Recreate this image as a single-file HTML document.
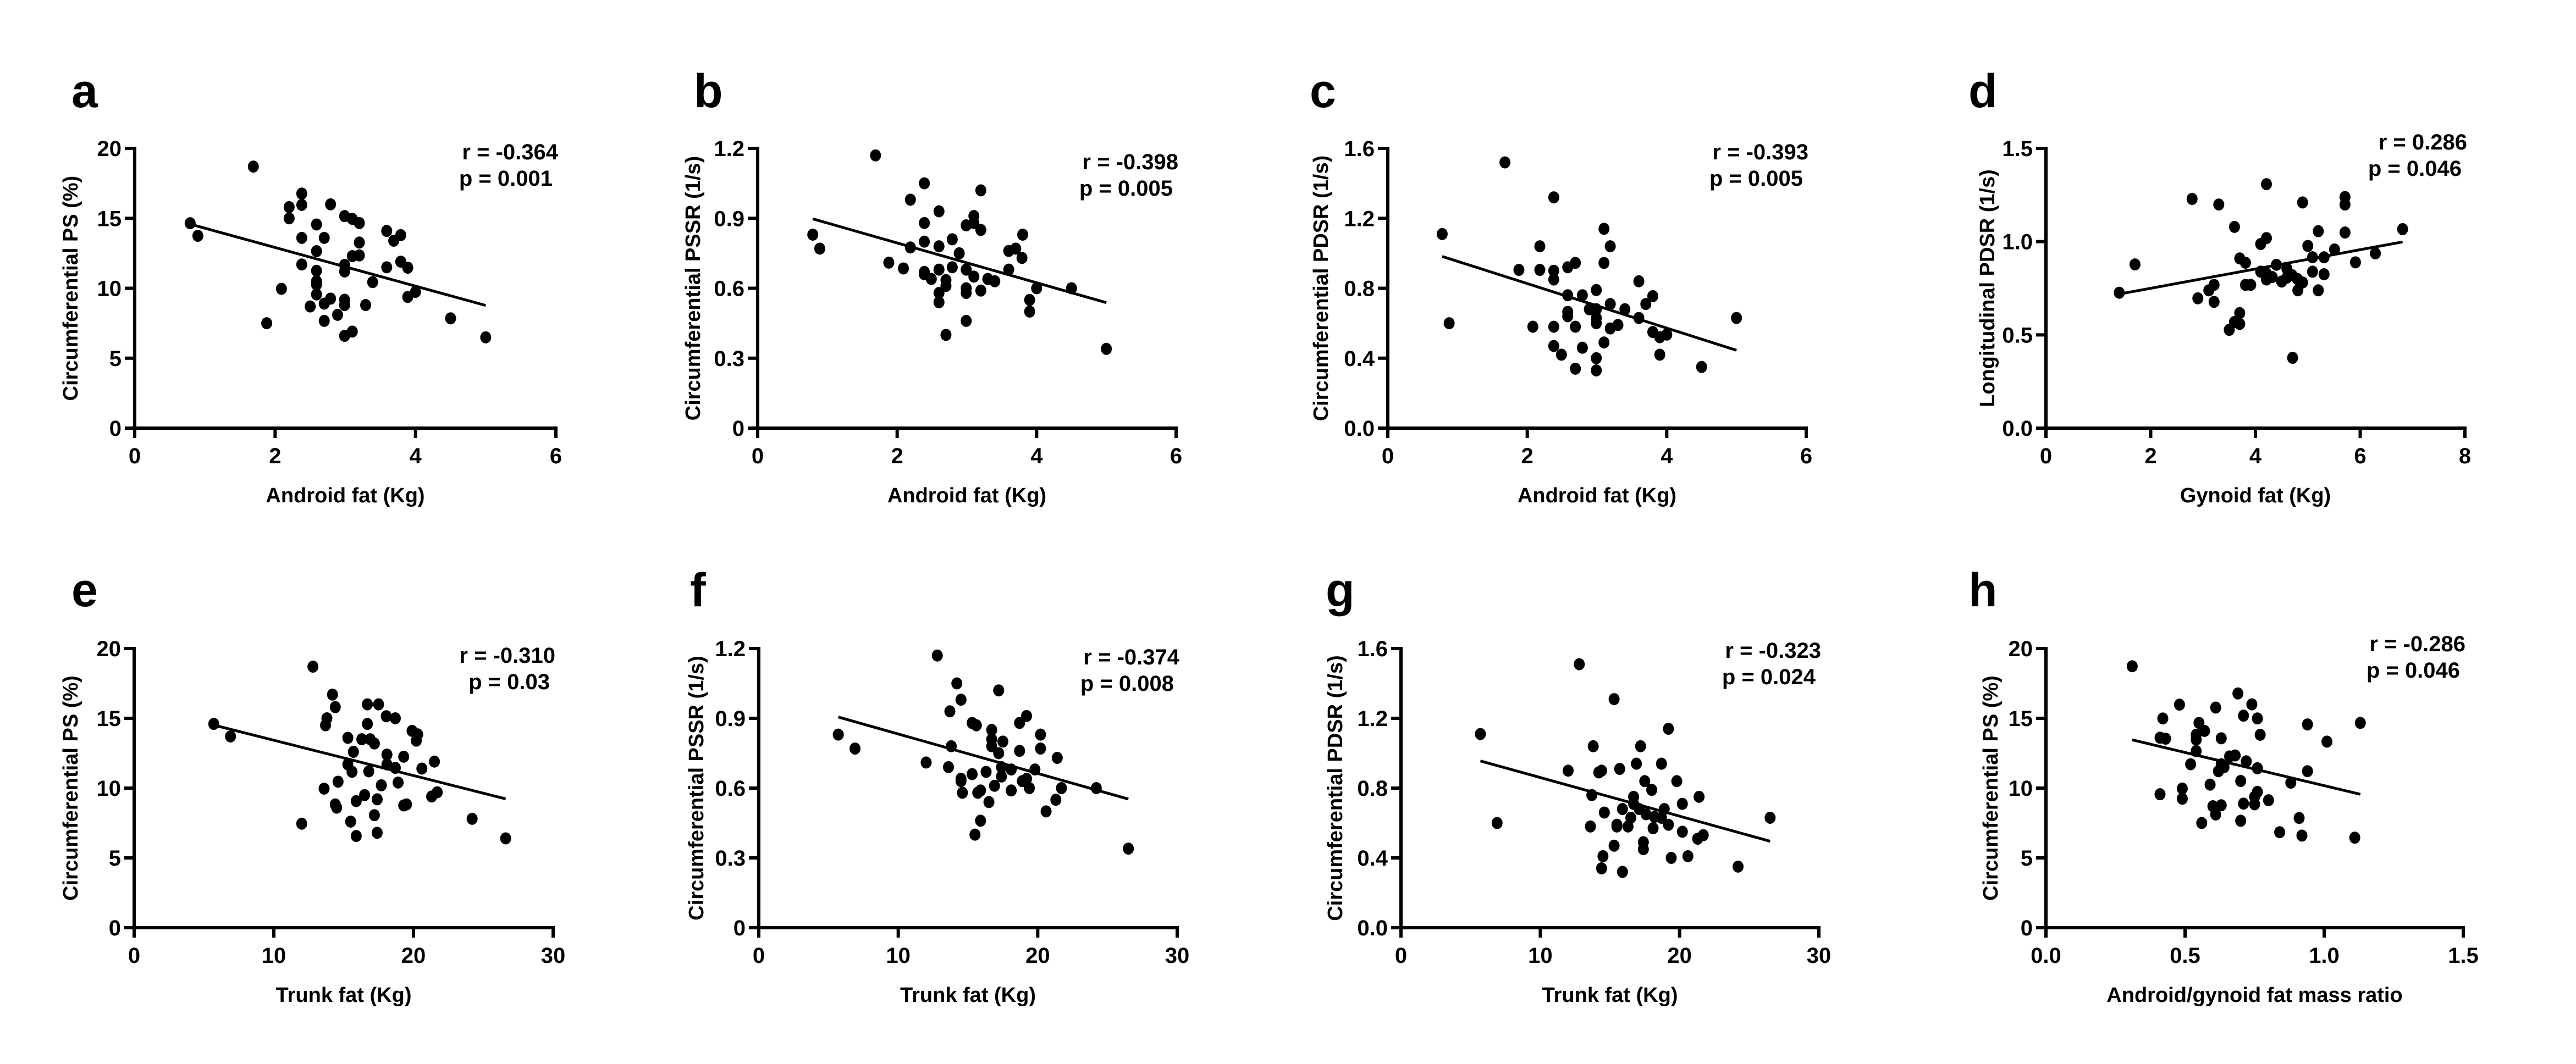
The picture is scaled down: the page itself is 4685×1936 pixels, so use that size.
<!DOCTYPE html>
<html><head><meta charset="utf-8">
<style>
html,body{margin:0;padding:0;background:#fff;}
svg{display:block;font-family:"Liberation Sans",Arial,sans-serif;font-weight:bold;}
</style></head>
<body>
<svg id="fig" width="4685" height="1936" viewBox="0 0 4685 1936" xmlns="http://www.w3.org/2000/svg"></svg>
<script>
// ---- Panel data ----
const aX=[1.69,0.79,0.9,2.38,2.38,2.2,2.2,2.79,2.59,2.38,2.7,2.59,2.38,2.59,2.59,2.59,2.59,2.09,1.88,2.5,2.7,2.79,2.7,2.89,2.99,2.99,2.99,3.1,2.99,2.99,2.99,3.1,3.2,3.2,3.1,3.2,3.29,3.39,3.59,3.69,3.79,3.59,3.79,3.89,3.89,4.0,4.5,5.0];
const aY=[18.7,14.65,13.75,16.77,15.96,15.8,15.0,16.0,14.56,13.6,13.6,12.65,11.7,11.25,10.5,10.26,9.56,9.96,7.5,8.7,8.9,9.26,7.67,8.1,9.18,8.8,6.6,6.9,11.67,11.2,15.16,14.96,14.66,13.27,12.3,12.35,8.8,10.44,14.1,13.4,13.8,11.5,11.9,11.47,9.38,9.74,7.85,6.49];
const bX=[1.69,0.79,0.89,2.39,2.19,2.6,2.39,2.39,2.19,2.6,2.79,2.89,2.99,3.1,3.1,3.2,3.2,3.8,3.6,3.7,3.79,3.6,1.88,2.09,2.39,2.39,2.49,2.6,2.79,2.99,3.1,3.3,3.4,2.7,2.7,2.6,2.6,2.99,2.99,3.2,4.0,4.5,3.9,3.9,2.99,2.7,5.0];
const bY=[1.17,0.83,0.77,1.05,0.98,0.93,0.88,0.80,0.775,0.78,0.81,0.75,0.87,0.91,0.88,1.02,0.85,0.83,0.76,0.77,0.73,0.68,0.71,0.685,0.67,0.66,0.64,0.68,0.69,0.68,0.65,0.64,0.63,0.635,0.61,0.58,0.54,0.6,0.58,0.59,0.6,0.6,0.55,0.5,0.46,0.40,0.34];
const cX=[1.68,0.78,0.88,2.38,2.18,1.88,2.18,2.38,2.38,2.58,2.69,3.1,3.19,3.1,3.6,2.58,2.79,2.99,3.19,3.4,3.8,3.7,3.6,2.89,2.99,2.99,2.99,2.58,2.58,2.08,2.38,2.69,3.19,3.3,3.8,3.9,4.0,5.0,2.38,2.79,3.1,2.49,2.99,3.9,4.5,2.69,2.99];
const cY=[1.52,1.11,0.60,1.32,1.04,0.905,0.905,0.90,0.85,0.92,0.945,1.14,1.04,0.945,0.84,0.76,0.76,0.79,0.71,0.68,0.755,0.71,0.63,0.68,0.68,0.63,0.60,0.665,0.64,0.58,0.58,0.58,0.57,0.59,0.55,0.52,0.535,0.63,0.47,0.46,0.49,0.42,0.40,0.42,0.35,0.34,0.33];
const dX=[1.40,1.70,2.79,3.30,3.60,4.21,4.90,5.71,5.71,5.2,5.71,6.81,4.21,4.1,5.0,5.51,6.29,5.09,5.31,5.91,3.7,3.81,4.4,4.6,4.1,4.21,4.32,4.21,5.09,5.31,4.5,4.6,4.7,4.8,4.9,3.81,3.91,3.21,3.11,2.9,3.21,4.81,5.2,3.7,3.6,3.7,3.5,4.71];
const dY=[0.726,0.878,1.229,1.199,1.079,1.308,1.21,1.239,1.199,1.056,1.049,1.067,1.019,0.987,0.977,0.958,0.937,0.916,0.916,0.889,0.91,0.887,0.876,0.855,0.839,0.829,0.81,0.797,0.839,0.825,0.786,0.807,0.82,0.80,0.781,0.768,0.768,0.768,0.739,0.696,0.677,0.739,0.739,0.617,0.569,0.559,0.527,0.377];
const eX=[12.8,5.7,6.9,14.2,14.4,13.8,13.7,16.7,17.5,18.05,18.7,16.7,19.9,20.3,20.2,15.3,16.3,16.9,17.2,15.7,18.1,19.3,21.5,15.3,18.1,18.7,20.6,15.6,16.8,14.6,18.9,17.7,13.6,16.5,15.9,17.4,21.3,21.7,14.4,14.5,19.3,19.5,17.2,24.2,12.0,15.5,15.9,17.4,26.6];
const eY=[18.7,14.6,13.7,16.7,15.8,15.0,14.5,16.0,16.0,15.15,15.0,14.6,14.1,13.85,13.4,13.6,13.5,13.5,13.2,12.6,12.4,12.25,11.9,11.7,11.7,11.45,11.4,11.17,11.2,10.46,10.4,10.2,9.96,9.5,9.07,9.2,9.4,9.7,8.83,8.6,8.76,8.83,8.06,7.8,7.45,7.6,6.57,6.8,6.4];
const fX=[12.8,5.7,6.9,14.2,14.5,13.7,17.2,19.2,18.7,15.3,15.6,16.7,20.2,16.7,17.5,16.7,13.8,17.2,18.7,20.2,21.4,12.0,13.6,17.4,18.1,19.8,16.3,15.3,17.4,14.5,19.2,18.9,14.5,16.9,19.4,21.7,24.2,18.1,14.6,15.7,15.9,16.5,21.3,20.6,15.9,15.5,26.5];
const fY=[1.17,0.83,0.77,1.05,0.98,0.93,1.02,0.91,0.88,0.88,0.87,0.85,0.83,0.81,0.80,0.78,0.78,0.75,0.76,0.77,0.73,0.71,0.69,0.69,0.68,0.68,0.67,0.66,0.65,0.64,0.64,0.63,0.63,0.61,0.6,0.6,0.6,0.59,0.58,0.58,0.59,0.54,0.55,0.50,0.46,0.40,0.34];
const gX=[12.8,5.7,6.9,15.3,19.2,13.8,17.2,16.9,18.7,12.0,14.2,14.4,15.7,17.5,19.8,18.0,13.7,16.7,21.4,20.2,15.9,16.7,14.6,17.1,17.6,18.9,16.5,18.7,18.2,26.5,13.6,15.5,15.5,16.3,18.1,19.2,20.2,21.3,21.7,17.4,17.4,15.3,14.5,20.6,19.4,14.4,15.9,24.2];
const gY=[1.51,1.11,0.60,1.31,1.14,1.04,1.04,0.94,0.94,0.90,0.89,0.90,0.91,0.84,0.84,0.79,0.76,0.75,0.75,0.71,0.68,0.71,0.66,0.68,0.65,0.68,0.63,0.63,0.635,0.63,0.58,0.59,0.58,0.58,0.57,0.59,0.55,0.51,0.53,0.49,0.45,0.47,0.41,0.41,0.40,0.34,0.32,0.35];
const hX=[0.31,0.69,0.48,0.61,0.74,0.42,0.71,0.76,0.55,0.57,0.94,1.13,0.77,0.41,0.43,0.54,0.54,0.63,1.01,0.54,0.68,0.66,0.72,0.63,0.64,0.62,0.76,0.52,0.94,0.59,0.70,0.88,0.49,0.41,0.49,0.76,0.75,0.80,0.60,0.63,0.71,0.75,0.61,0.56,0.70,0.91,0.84,0.92,1.11];
const hY=[18.73,16.78,15.98,15.77,16.0,14.99,15.19,14.99,14.67,14.1,14.56,14.67,13.82,13.61,13.54,13.82,13.47,13.57,13.33,12.65,12.34,12.27,11.92,11.71,11.5,11.21,11.42,11.71,11.21,10.25,10.51,10.39,9.97,9.56,9.24,9.73,9.38,9.13,8.7,8.77,8.89,8.84,8.11,7.5,7.66,7.86,6.84,6.6,6.45];

const statsR=["r = -0.364","r = -0.398","r = -0.393","r = 0.286","r = -0.310","r = -0.374","r = -0.323","r = -0.286"];
const statsP=["p = 0.001","p = 0.005","p = 0.005","p = 0.046","p = 0.03","p = 0.008","p = 0.024","p = 0.046"];
const xTickLabels=[["0","2","4","6"],["0","2","4","6"],["0","2","4","6"],["0","2","4","6","8"],["0","10","20","30"],["0","10","20","30"],["0","10","20","30"],["0.0","0.5","1.0","1.5"]];
const yTickLabels=[["0","5","10","15","20"],["0","0.3","0.6","0.9","1.2"],["0.0","0.4","0.8","1.2","1.6"],["0.0","0.5","1.0","1.5"],["0","5","10","15","20"],["0","0.3","0.6","0.9","1.2"],["0.0","0.4","0.8","1.2","1.6"],["0","5","10","15","20"]];
const yTitles=["Circumferential PS (%)","Circumferential PSSR (1/s)","Circumferential PDSR (1/s)","Longitudinal PDSR (1/s)","Circumferential PS (%)","Circumferential PSSR (1/s)","Circumferential PDSR (1/s)","Circumferential PS (%)"];
const xTitles=["Android fat (Kg)","Android fat (Kg)","Android fat (Kg)","Gynoid fat (Kg)","Trunk fat (Kg)","Trunk fat (Kg)","Trunk fat (Kg)","Android/gynoid fat mass ratio"];
const letters=["a","b","c","d","e","f","g","h"];

const panels=[
 {xs:aX,ys:aY,x0:245,x1:1011,y0:779,y1:270,lx:130,ly:195,tx:128,rb:290},
 {xs:bX,ys:bY,x0:1378,x1:2139,y0:779,y1:270,lx:1262,ly:195,tx:1260,rb:308},
 {xs:cX,ys:cY,x0:2524,x1:3285,y0:779,y1:270,lx:2382,ly:195,tx:2402,rb:290},
 {xs:dX,ys:dY,x0:3721,x1:4483,y0:779,y1:270,lx:3580,ly:195,tx:3614,rb:272},
 {xs:eX,ys:eY,x0:244,x1:1006,y0:1688,y1:1180,lx:130,ly:1103,tx:128,rb:1206},
 {xs:fX,ys:fY,x0:1380,x1:2141,y0:1688,y1:1180,lx:1255,ly:1103,tx:1266,rb:1209},
 {xs:gX,ys:gY,x0:2548,x1:3308,y0:1688,y1:1180,lx:2411,ly:1103,tx:2428,rb:1197},
 {xs:hX,ys:hY,x0:3721,x1:4480,y0:1688,y1:1180,lx:3580,ly:1103,tx:3620,rb:1185}
];

const NS="http://www.w3.org/2000/svg";
const svg=document.getElementById('fig');
function mk(tag,attrs,parent){const e=document.createElementNS(NS,tag);for(const k in attrs)e.setAttribute(k,attrs[k]);parent.appendChild(e);return e;}

panels.forEach((p,i)=>{
  const g=mk('g',{},svg);
  
  
  const xt=xTickLabels[i].map(Number), yt=yTickLabels[i].map(Number);
  const xmin=xt[0],xmax=xt[xt.length-1],ymin=yt[0],ymax=yt[yt.length-1];
  const sx=v=>p.x0+(v-xmin)/(xmax-xmin)*(p.x1-p.x0);
  const sy=v=>p.y0-(v-ymin)/(ymax-ymin)*(p.y0-p.y1);
  const L=mk('text',{x:p.lx,y:p.ly,'font-size':86},g); L.textContent=letters[i];
  
  
  const ax=mk('path',{d:`M${p.x0} ${p.y1-3}V${p.y0}H${p.x1+3}`,fill:'none',stroke:'#000','stroke-width':6},g);
  
  
  xTickLabels[i].forEach((lab,k)=>{
    const x=sx(xt[k]);
    mk('line',{x1:x,x2:x,y1:p.y0,y2:p.y0+18,stroke:'#000','stroke-width':6},g);
    const t=mk('text',{x:x,y:p.y0+64,'font-size':40,'text-anchor':'middle'},g);t.textContent=lab;
    
    
  });
  yTickLabels[i].forEach((lab,k)=>{
    const y=sy(yt[k]);
    mk('line',{x1:p.x0-18,x2:p.x0,y1:y,y2:y,stroke:'#000','stroke-width':6},g);
    const t=mk('text',{x:p.x0-24,y:y+14,'font-size':40,'text-anchor':'end'},g);t.textContent=lab;
    
    
  });
  const xtit=mk('text',{x:(p.x0+p.x1)/2,y:p.y0+135,'font-size':38,'text-anchor':'middle'},g);xtit.textContent=xTitles[i];
  
  
  const cy=(p.y0+p.y1)/2;
  const ytit=mk('text',{x:p.tx,y:cy,'font-size':38,'text-anchor':'middle',transform:`rotate(-90 ${p.tx} ${cy})`,dy:13},g);ytit.textContent=yTitles[i];
  
  
  const r=mk('text',{x:p.x1+4,y:p.rb,'font-size':40,'text-anchor':'end'},g);r.textContent=statsR[i];
  
  
  const pv=mk('text',{x:p.x1-6,y:p.rb+48,'font-size':40,'text-anchor':'end'},g);pv.textContent=statsP[i];
  
  
  const n=p.xs.length;let mx=0,my=0;for(let k=0;k<n;k++){mx+=p.xs[k];my+=p.ys[k];}mx/=n;my/=n;
  let sxy=0,sxx=0;for(let k=0;k<n;k++){sxy+=(p.xs[k]-mx)*(p.ys[k]-my);sxx+=(p.xs[k]-mx)**2;}
  const b=sxy/sxx,a=my-b*mx;const lo=Math.min(...p.xs),hi=Math.max(...p.xs);
  const ln=mk('line',{x1:sx(lo),y1:sy(a+b*lo),x2:sx(hi),y2:sy(a+b*hi),stroke:'#000','stroke-width':5},g);
  
  
  for(let k=0;k<n;k++){
    const c=mk('ellipse',{cx:sx(p.xs[k]),cy:sy(p.ys[k]),rx:10,ry:11,fill:'#000'},g);
    
    
  }
});
</script>
</body></html>
